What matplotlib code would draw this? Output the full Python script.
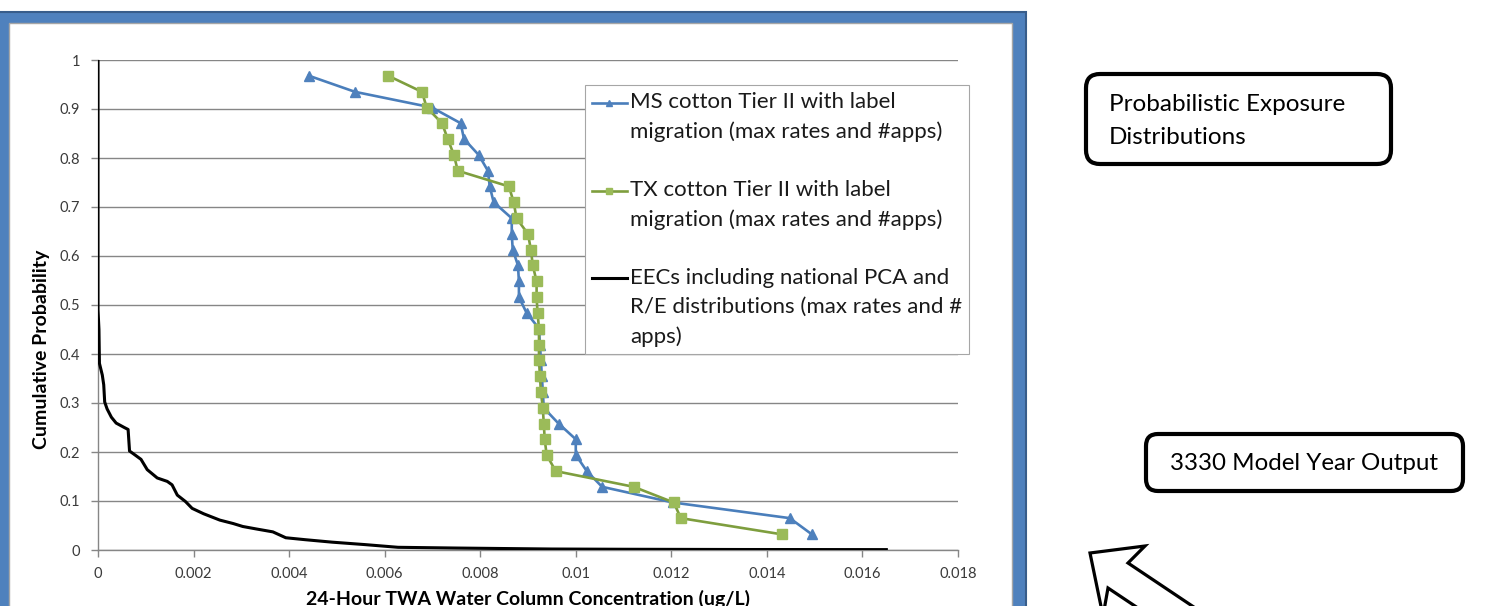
import matplotlib
matplotlib.use('Agg')
import matplotlib.pyplot as plt
from matplotlib.patches import Rectangle, FancyBboxPatch, Polygon
from matplotlib.legend_handler import HandlerLine2D
from matplotlib.transforms import Affine2D
from matplotlib.ticker import FuncFormatter

plt.rcParams['font.family'] = ['Lato', 'DejaVu Sans']

# cumulative probability levels (same for both Tier II series)
prob = [0.968, 0.935, 0.903, 0.871, 0.839, 0.806, 0.774, 0.742, 0.710, 0.677,
        0.645, 0.613, 0.581, 0.548, 0.516, 0.484, 0.452, 0.419, 0.387, 0.355,
        0.323, 0.290, 0.258, 0.226, 0.194, 0.161, 0.129, 0.097, 0.065, 0.032]

ms_conc = [0.00441, 0.00538, 0.00699, 0.00759, 0.00766, 0.00797, 0.00816, 0.00820,
           0.00828, 0.00866, 0.00866, 0.00868, 0.00879, 0.00881, 0.00881, 0.00897,
           0.00923, 0.00925, 0.00927, 0.00929, 0.00931, 0.00933, 0.00964, 0.01000,
           0.01000, 0.01023, 0.01055, 0.01203, 0.01448, 0.01494]

tx_conc = [0.00607, 0.00678, 0.00688, 0.00720, 0.00732, 0.00745, 0.00753, 0.00860,
           0.00870, 0.00876, 0.00900, 0.00906, 0.00910, 0.00918, 0.00918, 0.00920,
           0.00923, 0.00923, 0.00923, 0.00925, 0.00927, 0.00931, 0.00933, 0.00935,
           0.00939, 0.00958, 0.01121, 0.01205, 0.01220, 0.01431]

# national EEC distribution (traced curve)
eec_conc = [0, 0, 0.00002, 0.00003, 0.00009, 0.00012, 0.00014, 0.00019, 0.00028,
            0.00038, 0.00055, 0.00063, 0.00066, 0.00076, 0.00090, 0.00103, 0.00124,
            0.00145, 0.00155, 0.00166, 0.00183, 0.00197, 0.00221, 0.00255, 0.00283,
            0.00303, 0.00331, 0.00366, 0.00393, 0.00434, 0.00490, 0.00559, 0.00628,
            0.00750, 0.00850, 0.00950, 0.01100, 0.01350, 0.01650]
eec_prob = [1.0, 0.49, 0.45, 0.381, 0.357, 0.337, 0.302, 0.288, 0.271,
            0.259, 0.250, 0.246, 0.202, 0.195, 0.185, 0.164, 0.147,
            0.140, 0.133, 0.112, 0.099, 0.085, 0.074, 0.061, 0.054,
            0.048, 0.043, 0.037, 0.025, 0.021, 0.016, 0.011, 0.0055,
            0.004, 0.003, 0.002, 0.0015, 0.001, 0.0008]

labels = ['MS cotton Tier II with label\nmigration (max rates and #apps)',
          'TX cotton Tier II with label\nmigration (max rates and #apps)',
          'EECs including national PCA and\nR/E distributions (max rates and #\napps)']

W, H = 1488, 606
fig = plt.figure(figsize=(W / 100, H / 100), dpi=100)
# pixel coords, origin top-left
px = Affine2D().scale(1, -1).translate(0, H).scale(1 / W, 1 / H) + fig.transFigure

# blue chart frame
fig.add_artist(Rectangle((-6, 12), 1032, 660, transform=px, facecolor='#4F81BD',
                         edgecolor='#385D8A', lw=1.5, zorder=-3))
fig.add_artist(Rectangle((9, 23), 1003, 660, transform=px, facecolor='white',
                         edgecolor='#A6A6A6', lw=1, zorder=-2))

ax = fig.add_axes([98 / W, 1 - 550 / H, 860 / W, 490 / H])
ax.set_facecolor('none')

ax.plot(ms_conc, prob, color='#4A7EBB', lw=1.9, marker='^', ms=7,
        mfc='#4F81BD', mec='#4F81BD', label=labels[0], zorder=3)
ax.plot(tx_conc, prob, color='#7E9E3E', lw=1.9, marker='s', ms=6.5,
        mfc='#9BBB59', mec='#9BBB59', label=labels[1], zorder=3)
ax.plot(eec_conc, eec_prob, color='black', lw=2.2, label=labels[2], zorder=4)

ax.set_xlim(0, 0.018)
ax.set_ylim(0, 1)
ax.set_xticks([i * 0.002 for i in range(10)])
ax.set_yticks([i * 0.1 for i in range(11)])
fmt = FuncFormatter(lambda v, p: '%g' % round(v, 6))
ax.xaxis.set_major_formatter(fmt)
ax.yaxis.set_major_formatter(fmt)
ax.tick_params(colors='#868686', labelcolor='#3A3A3A', labelsize=10.5, length=5, width=1)
ax.tick_params(axis='x', pad=7)
ax.tick_params(axis='y', pad=8)
ax.grid(axis='y', color='#868686', lw=1)
ax.set_axisbelow(True)
for s in ['top', 'right']:
    ax.spines[s].set_visible(False)
for s in ['left', 'bottom']:
    ax.spines[s].set_color('#868686')
    ax.spines[s].set_linewidth(1)

fig.text(42 / W, 1 - 349 / H, 'Cumulative Probability', rotation=90, ha='center',
         va='center', fontsize=14, fontweight='bold', color='black')
fig.text(528 / W, 1 - 590 / H, '24-Hour TWA Water Column Concentration (ug/L)',
         ha='center', va='top', fontsize=14, fontweight='bold', color='black')


class FirstLineHandler(HandlerLine2D):
    # put the legend sample next to the first text line
    def __init__(self, lift, **kw):
        super().__init__(**kw)
        self.lift = lift

    def create_artists(self, legend, orig_handle, xdescent, ydescent, width, height,
                       fontsize, trans):
        return super().create_artists(legend, orig_handle, xdescent, ydescent - 2 * self.lift,
                                      width, height, fontsize, trans)


step = 21.0 / 2
lines = ax.get_lines()
leg = ax.legend(handler_map={lines[0]: FirstLineHandler(step, numpoints=1),
                             lines[1]: FirstLineHandler(step, numpoints=1),
                             lines[2]: FirstLineHandler(2 * step, numpoints=1)},
                loc='upper left', bbox_to_anchor=(585, 85), bbox_transform=px,
                fontsize=16, frameon=True, fancybox=False, edgecolor='#A6A6A6',
                framealpha=1, borderaxespad=0, borderpad=0.32, handlelength=1.55,
                handletextpad=0.15, labelspacing=1.72, markerscale=0.6)
leg.get_frame().set_linewidth(0.8)
for t in leg.get_texts():
    t.set_linespacing(1.55)
    t.set_color('#1A1A1A')

# annotation boxes to the right
fig.add_artist(FancyBboxPatch((1086, 74), 305, 90, boxstyle='round,pad=0,rounding_size=14',
                              transform=px, facecolor='white', edgecolor='black', lw=3))
fig.text(1109 / W, 1 - 121 / H, 'Probabilistic Exposure\nDistributions', ha='left',
         va='center', fontsize=17.5, linespacing=1.66, color='black')
fig.add_artist(FancyBboxPatch((1146, 434), 317, 57, boxstyle='round,pad=0,rounding_size=12',
                              transform=px, facecolor='white', edgecolor='black', lw=3))
fig.text(1304 / W, 1 - 463 / H, '3330 Model Year Output', ha='center', va='center',
         fontsize=17.4, color='black')

# hollow arrow pointing up-left toward the chart
arrow_pts = [(1090, 553), (1145, 546), (1128, 563), (1258, 650), (1238, 675),
             (1108, 588), (1103, 616)]
fig.add_artist(Polygon(arrow_pts, closed=True, transform=px, facecolor='white',
                       edgecolor='black', lw=2.3, joinstyle='miter'))

fig.savefig('out.png', dpi=100)
